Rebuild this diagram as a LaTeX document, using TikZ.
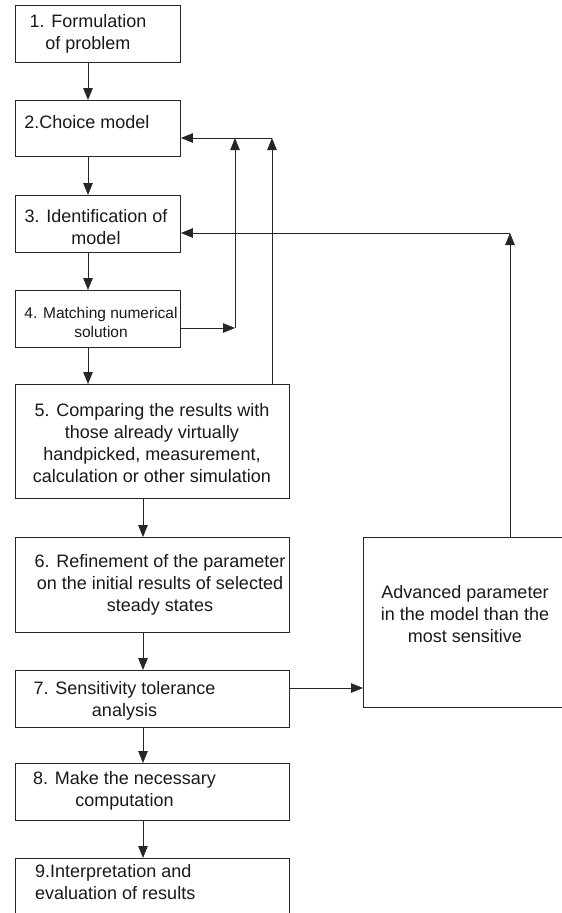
\documentclass[tikz,border=0pt]{standalone}
\usepackage{fontspec}
\setmainfont{Liberation Sans}
\usetikzlibrary{arrows.meta}
\tikzset{
  box/.style={draw=black!85, line width=0.9pt, anchor=north west, inner sep=0},
  txt/.style={font=\fontsize{18}{22}\selectfont, text=black!90, align=center, inner sep=0},
  arr/.style={draw=black!85, line width=0.9pt, -{Triangle[length=12pt,width=9.5pt]}},
}
\begin{document}
\begin{tikzpicture}[x=1pt,y=-1pt]
\useasboundingbox (0,0) rectangle (562,913);
\clip (0,0) rectangle (562,913);
% frames of the steps
\node[box, minimum width=165pt, minimum height=57pt] (b1) at (15,5) {};
\node[box, minimum width=165pt, minimum height=56pt] (b2) at (15,100) {};
\node[box, minimum width=165pt, minimum height=57pt] (b3) at (15,195) {};
\node[box, minimum width=165pt, minimum height=57pt] (b4) at (15,290) {};
\node[box, minimum width=274pt, minimum height=114pt] (b5) at (15,384) {};
\node[box, minimum width=274pt, minimum height=95pt] (b6) at (15,537) {};
\node[box, minimum width=274pt, minimum height=57pt] (b7) at (15,670) {};
\node[box, minimum width=274pt, minimum height=57pt] (b8) at (15,763) {};
\node[box, minimum width=274pt, minimum height=80pt] (b9) at (15,858) {};
\node[box, minimum width=210pt, minimum height=170pt] (adv) at (363,537) {};
% texts
\node[txt] (t1) at (88,33.5) {1. Formulation\\of problem};
\node[txt] (t2) at (87,122) {2.Choice model};
\node[txt] (t3) at (96,227.5) {3. Identification of\\model};
\node[txt, font=\fontsize{15.5}{19}\selectfont] (t4) at (101,322.5) {4. Matching numerical\\solution};
\node[txt] (t5) at (152,443.5) {5. Comparing the results with\\those already virtually\\handpicked, measurement,\\calculation or other simulation};
\node[txt] (t6) at (160,585) {6. Refinement of the parameter\\on the initial results of selected\\steady states};
\node[txt] (t7) at (124.5,701) {7. Sensitivity tolerance\\analysis};
\node[txt] (t8) at (124.5,791) {8. Make the necessary\\computation};
\node[txt, align=left, anchor=west] (t9) at (35,882.5) {9.Interpretation and\\evaluation of results};
\node[txt] (tadv) at (465,614.5) {Advanced parameter\\in the model than the\\most sensitive};
% main flow
\coordinate (cl) at (88,0);
\coordinate (cr) at (143,0);
\foreach \a/\b in {b1/b2,b2/b3,b3/b4,b4/b5}
  \draw[arr] (\a.south -| cl) -- (\b.north -| cl);
\foreach \a/\b in {b5/b6,b6/b7,b7/b8,b8/b9}
  \draw[arr] (\a.south -| cr) -- (\b.north -| cr);
% feedback loops
\coordinate (k4) at (235,328);
\coordinate (k2) at (235,138);
\coordinate (k5) at (272,138);
\coordinate (k3) at (510,233);
\coordinate (k7) at (330,688);
\draw[arr] (b4.east |- k4) -- (k4);
\draw[arr] (k4) -- (k2);
\draw[arr] (b5.north -| k5) -- (k5);
\draw[arr] (k5) -- (b2.east |- k5);
\draw[arr] (b7.east |- k7) -- (adv.west |- k7);
\draw[arr] (adv.north -| k3) -- (k3);
\draw[arr] (k3) -- (b3.east |- k3);
\end{tikzpicture}
\end{document}
